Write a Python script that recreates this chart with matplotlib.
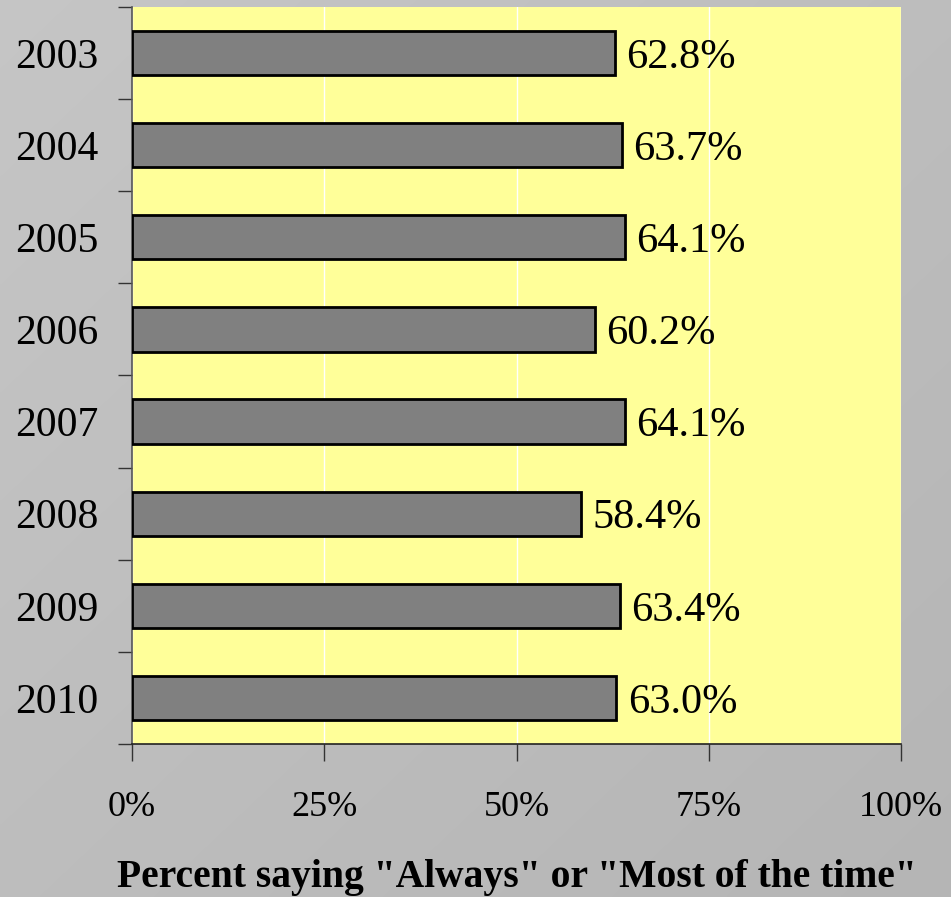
import numpy as np
import matplotlib.pyplot as plt
from matplotlib.ticker import FixedLocator, NullFormatter

years = ["2003", "2004", "2005", "2006", "2007", "2008", "2009", "2010"]
values = [62.8, 63.7, 64.1, 60.2, 64.1, 58.4, 63.4, 63.0]
x_ticks = [0, 25, 50, 75, 100]
x_tick_labels = ["0%", "25%", "50%", "75%", "100%"]
x_label = 'Percent saying "Always" or "Most of the time"'

plt.rcParams['font.family'] = ['Liberation Serif', 'DejaVu Serif']

fig = plt.figure(figsize=(9.51, 8.97), dpi=100)

# soft gray gradient backdrop, lighter at the top left
bg = fig.add_axes([0, 0, 1, 1], zorder=-10)
yy, xx = np.mgrid[0:1:400j, 0:1:400j]
g = 0.775 - 0.065 * (xx + yy) / 2
rgb = np.dstack([g, g, g])
bg.imshow(rgb, extent=[0, 1, 0, 1], aspect='auto', origin='upper', interpolation='bilinear')
bg.axis('off')

ax = fig.add_axes([132 / 951, 1 - 744 / 897, (901 - 132) / 951, (744 - 7) / 897])
ax.set_facecolor('#FFFF99')

n = len(years)
pos = np.arange(n)
ax.barh(pos, values, height=0.48, color='#808080', edgecolor='black', linewidth=2, zorder=3)
for p, v in zip(pos, values):
    ax.text(v + 1.5, p, f"{v:.1f}%", va='center_baseline', ha='left', fontsize=30.5, color='black', zorder=4)

ax.set_xlim(0, 100)
ax.set_ylim(n - 0.5, -0.5)
ax.set_xticks(x_ticks)
ax.set_xticklabels(x_tick_labels, fontsize=26)
ax.xaxis.grid(True, color='white', linewidth=1, zorder=1)
ax.set_axisbelow(True)

ax.set_yticks(pos)
ax.set_yticklabels(years, fontsize=30, va='center_baseline')
ax.yaxis.set_minor_locator(FixedLocator(np.arange(-0.5, n, 1.0)))
ax.yaxis.set_minor_formatter(NullFormatter())
ax.tick_params(axis='y', which='major', length=0, pad=24)
ax.tick_params(axis='y', which='minor', length=10, width=1, color='#333333', direction='out')
ax.tick_params(axis='x', which='major', length=12, width=1, color='#333333', direction='out', pad=22)

for s in ['top', 'right']:
    ax.spines[s].set_visible(False)
ax.spines['left'].set_color('#555555')
ax.spines['bottom'].set_color('#222222')
ax.spines['left'].set_linewidth(1.2)
ax.spines['bottom'].set_linewidth(1.2)

ax.set_xlabel(x_label, fontsize=28.5, fontweight='bold', labelpad=25)

fig.savefig('out.png', dpi=100)
